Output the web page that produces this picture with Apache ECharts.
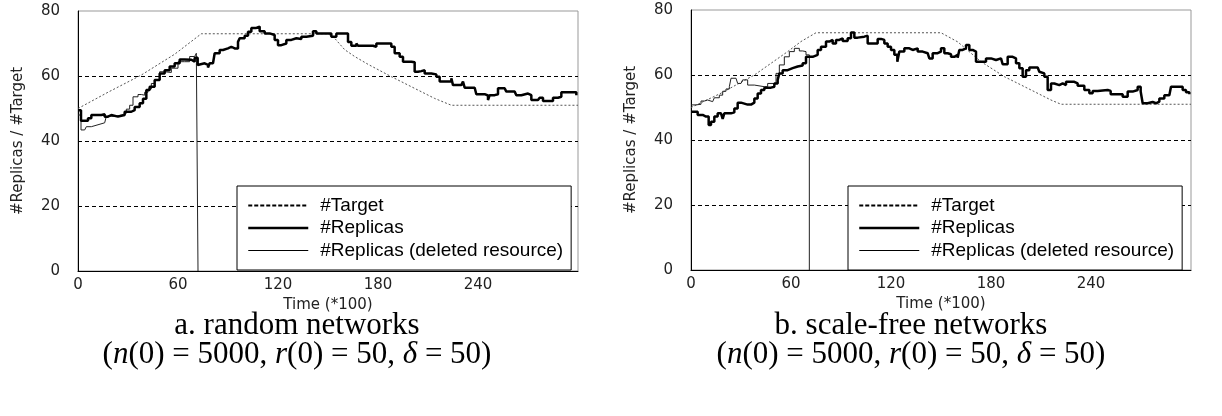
<!DOCTYPE html>
<html>
<head>
<meta charset="utf-8">
<script src="https://cdn.jsdelivr.net/npm/echarts@6/dist/echarts.min.js"></script>
<style>
  html, body { margin: 0; padding: 0; background: #fff; }
  #chart { width: 1222px; height: 416px; }
</style>
</head>
<body>
<div id="chart"></div>
<script>
// x = time (*100), y = number of replicas / target
var seriesNames = ['#Target', '#Replicas', '#Replicas (deleted resource)'];
var gridLevels = [20, 40, 60];

// a. random networks
var randomTarget = [[0,50],[18,55],[38,60.3],[58,66.7],[74,73],[150,73],[154,71.6],[160,68.1],[166,66],[174,63.6],[188,59.8],[200,56.7],[214,53.1],[224,51],[300,51]];
var randomReplicas = [[0,49.5],[1.8,46.2],[6,47],[8,48],[14,48.2],[16,47.5],[18,48],[20,47.5],[24,48],[28,49],[32,49.5],[34,50.5],[37,51.6],[39,53],[41,55.7],[43,56.7],[46,58.8],[49,60.8],[52,61.8],[55,62.9],[58,63.9],[61,65.1],[64,65],[68,64.4],[70,65.6],[71.8,63.4],[73,63.9],[76,63.4],[78,62.6],[79,63.9],[81,64.4],[82,67],[85,68],[87,68.5],[90,69],[92,68.5],[94,68.5],[96,70.5],[97,71.6],[100,72.4],[102,73.6],[104,74.8],[107,75.2],[109,73.8],[112,73.1],[115,72.6],[118,71.1],[120,69.5],[122,70],[125,71.1],[128,71.6],[131,71.4],[134,72.1],[137,72.4],[141,73.8],[143,73.1],[146,73.1],[149,73.1],[152,72.1],[155,73.1],[160,73.1],[162,70.5],[164,69.3],[167,70],[168,69.3],[170,69.3],[177,69],[179,70],[186,70],[188,69],[190,67],[193,65.9],[195,64.4],[200,64.2],[202,61.3],[204,61.5],[206,61.8],[208,60.8],[212,60.5],[215,59.8],[217,58.3],[222,58.3],[224,59.3],[225,57.2],[230,57.2],[231,58.3],[232,56.4],[238,56.2],[239,54.4],[244,54],[246,52.6],[247,54.1],[250,54.4],[252,56.2],[256,56],[257,55.2],[262,55],[263,54.1],[266,54.6],[270,54.1],[272,52.6],[276,52.3],[277,53.3],[279,52.3],[283,52.3],[285,53.3],[288,53.6],[290,55],[297,55],[299,54.1]];
var randomDeleted = [[0,48],[1.8,43.4],[4,43.9],[5,44.4],[8,44.4],[9,45],[12,45],[13,45.6],[16,45.8],[17,47.6],[20,47.6],[22,48],[26,48.5],[29,49.8],[31,51],[33,53.6],[36,54.3],[38,54.1],[40,55],[42,56],[44,57.7],[46,58.8],[49,61.3],[52,61.1],[56,62.4],[60,64.4],[64,64.4],[67,66],[70,66.5],[71,67],[72,67],[72,0]];

// b. scale-free networks
var scaleFreeTarget = [[0,50],[18,54.4],[38,60],[58,67.2],[66,70.3],[75,73],[150,73],[160,70.2],[174,64.1],[188,59.5],[204,55.4],[216,52.3],[222,51],[300,51]];
var scaleFreeReplicas = [[0,48.7],[4,47.7],[7,47.2],[9,47.2],[10.6,44.6],[12,45.6],[14,47.2],[16,48.2],[18,47.9],[19,46.5],[20,48.2],[24,48.5],[26,49.7],[28,51.5],[30,51.9],[31,50.9],[34,50.9],[36,51.5],[38,52.8],[40,54.3],[42,55.4],[44,56.1],[48,56.4],[50,57.4],[52,58.5],[53,60.5],[55,61.5],[58,62.1],[61,62.6],[64,62.9],[67,63.6],[69,65.6],[71,65.6],[73,66.2],[76,67.7],[78,68.7],[81,70.3],[83,70.8],[85,69.7],[87,70.8],[89,71.3],[91,70.5],[94,71.3],[96,73.1],[98,71.5],[100,71.8],[104,72.1],[106,69.7],[109,69.7],[112,71.1],[114,70.8],[116,69.7],[118,68.7],[120,67.7],[122,66.2],[123.8,64.1],[125,67.2],[128,68.2],[131,67.7],[133,68.2],[136,67.2],[139,66.7],[142,66.4],[143,65.1],[145,66.7],[148,67.2],[150,68.2],[152,66.7],[154,66.4],[156,65.6],[158,66.2],[160,65.3],[161,67.7],[163,68.2],[165,69.2],[167,67.7],[169,67.2],[171,64.1],[174,64.1],[177,65.1],[180,64.6],[183,65.1],[186,65.1],[187,63.3],[190,65.6],[193,65.1],[195,63.6],[197,62.1],[199,59.5],[201,61.5],[203,62.3],[208,62.3],[209,61],[210,60.5],[212,59.5],[214,55.4],[216,57.4],[218,56.9],[221,57.4],[223,56.9],[225,57.9],[228,57.9],[230,57.4],[232,56.7],[236,55.4],[239,54.4],[241,55.1],[244,55.4],[250,55.1],[251.8,54.1],[256,54.1],[259,53.3],[262,54.9],[265,55.4],[268,56.4],[269.8,54.9],[271,51.3],[274,51.7],[277,51.3],[279,51.8],[281,52.8],[284,53.8],[287,54.1],[288,56.4],[292,56.4],[295,55.4],[297,54.7],[299,54.1]];
var scaleFreeDeleted = [[0,50.8],[3,51],[6,52],[8,52.3],[10,51.8],[13,52],[14,53],[17,53.8],[19,55],[21,55.7],[23,56.4],[24,59],[27,59],[28,57.4],[30,57.4],[31,58.5],[34,56.9],[38,56.4],[44,56.4],[46,57.4],[48,57.4],[51,60.5],[53,63.1],[56,65.6],[59,67.2],[62,68.2],[65,67.4],[67,67.2],[69,66.2],[71,66.2],[71,0]];

var tickFont = { fontFamily: 'DejaVu Sans', fontSize: 15, color: '#222' };

function makeX(idx) {
    return {
        type: 'value', gridIndex: idx, min: 0, max: 300, interval: 60,
        name: 'Time (*100)', nameLocation: 'middle', nameGap: 27,
        nameTextStyle: { fontFamily: 'DejaVu Sans', fontSize: 15, color: '#222' },
        axisLine: { lineStyle: { color: '#000', width: 1 } },
        axisTick: { show: false },
        axisLabel: Object.assign({ margin: 7, showMaxLabel: false }, tickFont),
        splitLine: { show: false }
    };
}
function makeY(idx) {
    return {
        type: 'value', gridIndex: idx, min: 0, max: 80, interval: 20,
        name: '#Replicas / #Target', nameLocation: 'middle', nameGap: 52,
        nameTextStyle: { fontFamily: 'DejaVu Sans', fontSize: 15, color: '#222' },
        axisLine: { show: true, lineStyle: { color: '#000', width: 1 } },
        axisTick: { show: false },
        axisLabel: Object.assign({ margin: 18 }, tickFont),
        splitLine: { show: false }
    };
}
function makeSeries(idx, target, replicas, deleted) {
    return [
        {
            name: seriesNames[0], type: 'line', xAxisIndex: idx, yAxisIndex: idx,
            data: target, symbol: 'none', silent: true, z: 2,
            lineStyle: { color: '#555', width: 1, type: [2, 2] },
            markLine: {
                silent: true, symbol: 'none', label: { show: false }, z: 1,
                lineStyle: { color: '#000', width: 1, type: [4, 3] },
                data: gridLevels.map(function (v) { return { yAxis: v }; })
            }
        },
        {
            name: seriesNames[2], type: 'line', xAxisIndex: idx, yAxisIndex: idx,
            data: deleted, symbol: 'none', silent: true, z: 2, step: 'end',
            lineStyle: { color: '#222', width: 1 }
        },
        {
            name: seriesNames[1], type: 'line', xAxisIndex: idx, yAxisIndex: idx,
            data: replicas, symbol: 'none', silent: true, z: 3, step: 'end',
            lineStyle: { color: '#000', width: 2.5 }
        }
    ];
}
function makeLegend(left) {
    var noMark = { opacity: 0 };
    return {
        left: left, top: 186, orient: 'vertical', z: 20,
        backgroundColor: '#fff', borderColor: '#000', borderWidth: 1,
        padding: [10, 8, 10, 10], itemWidth: 60, itemHeight: 14, itemGap: 3.5,
        selectedMode: false,
        itemStyle: noMark,
        textStyle: { fontFamily: 'Liberation Sans', fontSize: 19, lineHeight: 19, color: '#000', padding: [0, 0, 0, 7] },
        data: [
            { name: seriesNames[0], itemStyle: noMark, lineStyle: { color: '#000', width: 2, type: [4, 2] } },
            { name: seriesNames[1], itemStyle: noMark, lineStyle: { color: '#000', width: 2.5 } },
            { name: seriesNames[2], itemStyle: noMark, lineStyle: { color: '#000', width: 1 } }
        ]
    };
}
function caption(x, title) {
    var f = '31px "Liberation Serif"';
    return [
        { type: 'text', x: x, y: 326, style: { text: title, font: f, fill: '#000', align: 'center', verticalAlign: 'middle' } },
        { type: 'text', x: x, y: 355, style: {
            text: '({i|n}(0) = 5000, {i|r}(0) = 50, {i|δ} = 50)', font: f, fill: '#000', align: 'center', verticalAlign: 'middle',
            rich: { i: { font: 'italic 31px "Liberation Serif"', fill: '#000' } }
        } }
    ];
}

var chart = echarts.init(document.getElementById('chart'));
chart.setOption({
    animation: false,
    backgroundColor: '#fff',
    grid: [
        { left: 78, top: 11, width: 500, height: 260, show: true, borderColor: '#999', borderWidth: 1 },
        { left: 691, top: 10, width: 500, height: 260, show: true, borderColor: '#999', borderWidth: 1 }
    ],
    xAxis: [makeX(0), makeX(1)],
    yAxis: [makeY(0), makeY(1)],
    legend: [makeLegend(237), makeLegend(848)],
    series: makeSeries(0, randomTarget, randomReplicas, randomDeleted)
        .concat(makeSeries(1, scaleFreeTarget, scaleFreeReplicas, scaleFreeDeleted)),
    graphic: caption(297, 'a. random networks').concat(caption(911, 'b. scale-free networks'))
});
</script>
</body>
</html>
